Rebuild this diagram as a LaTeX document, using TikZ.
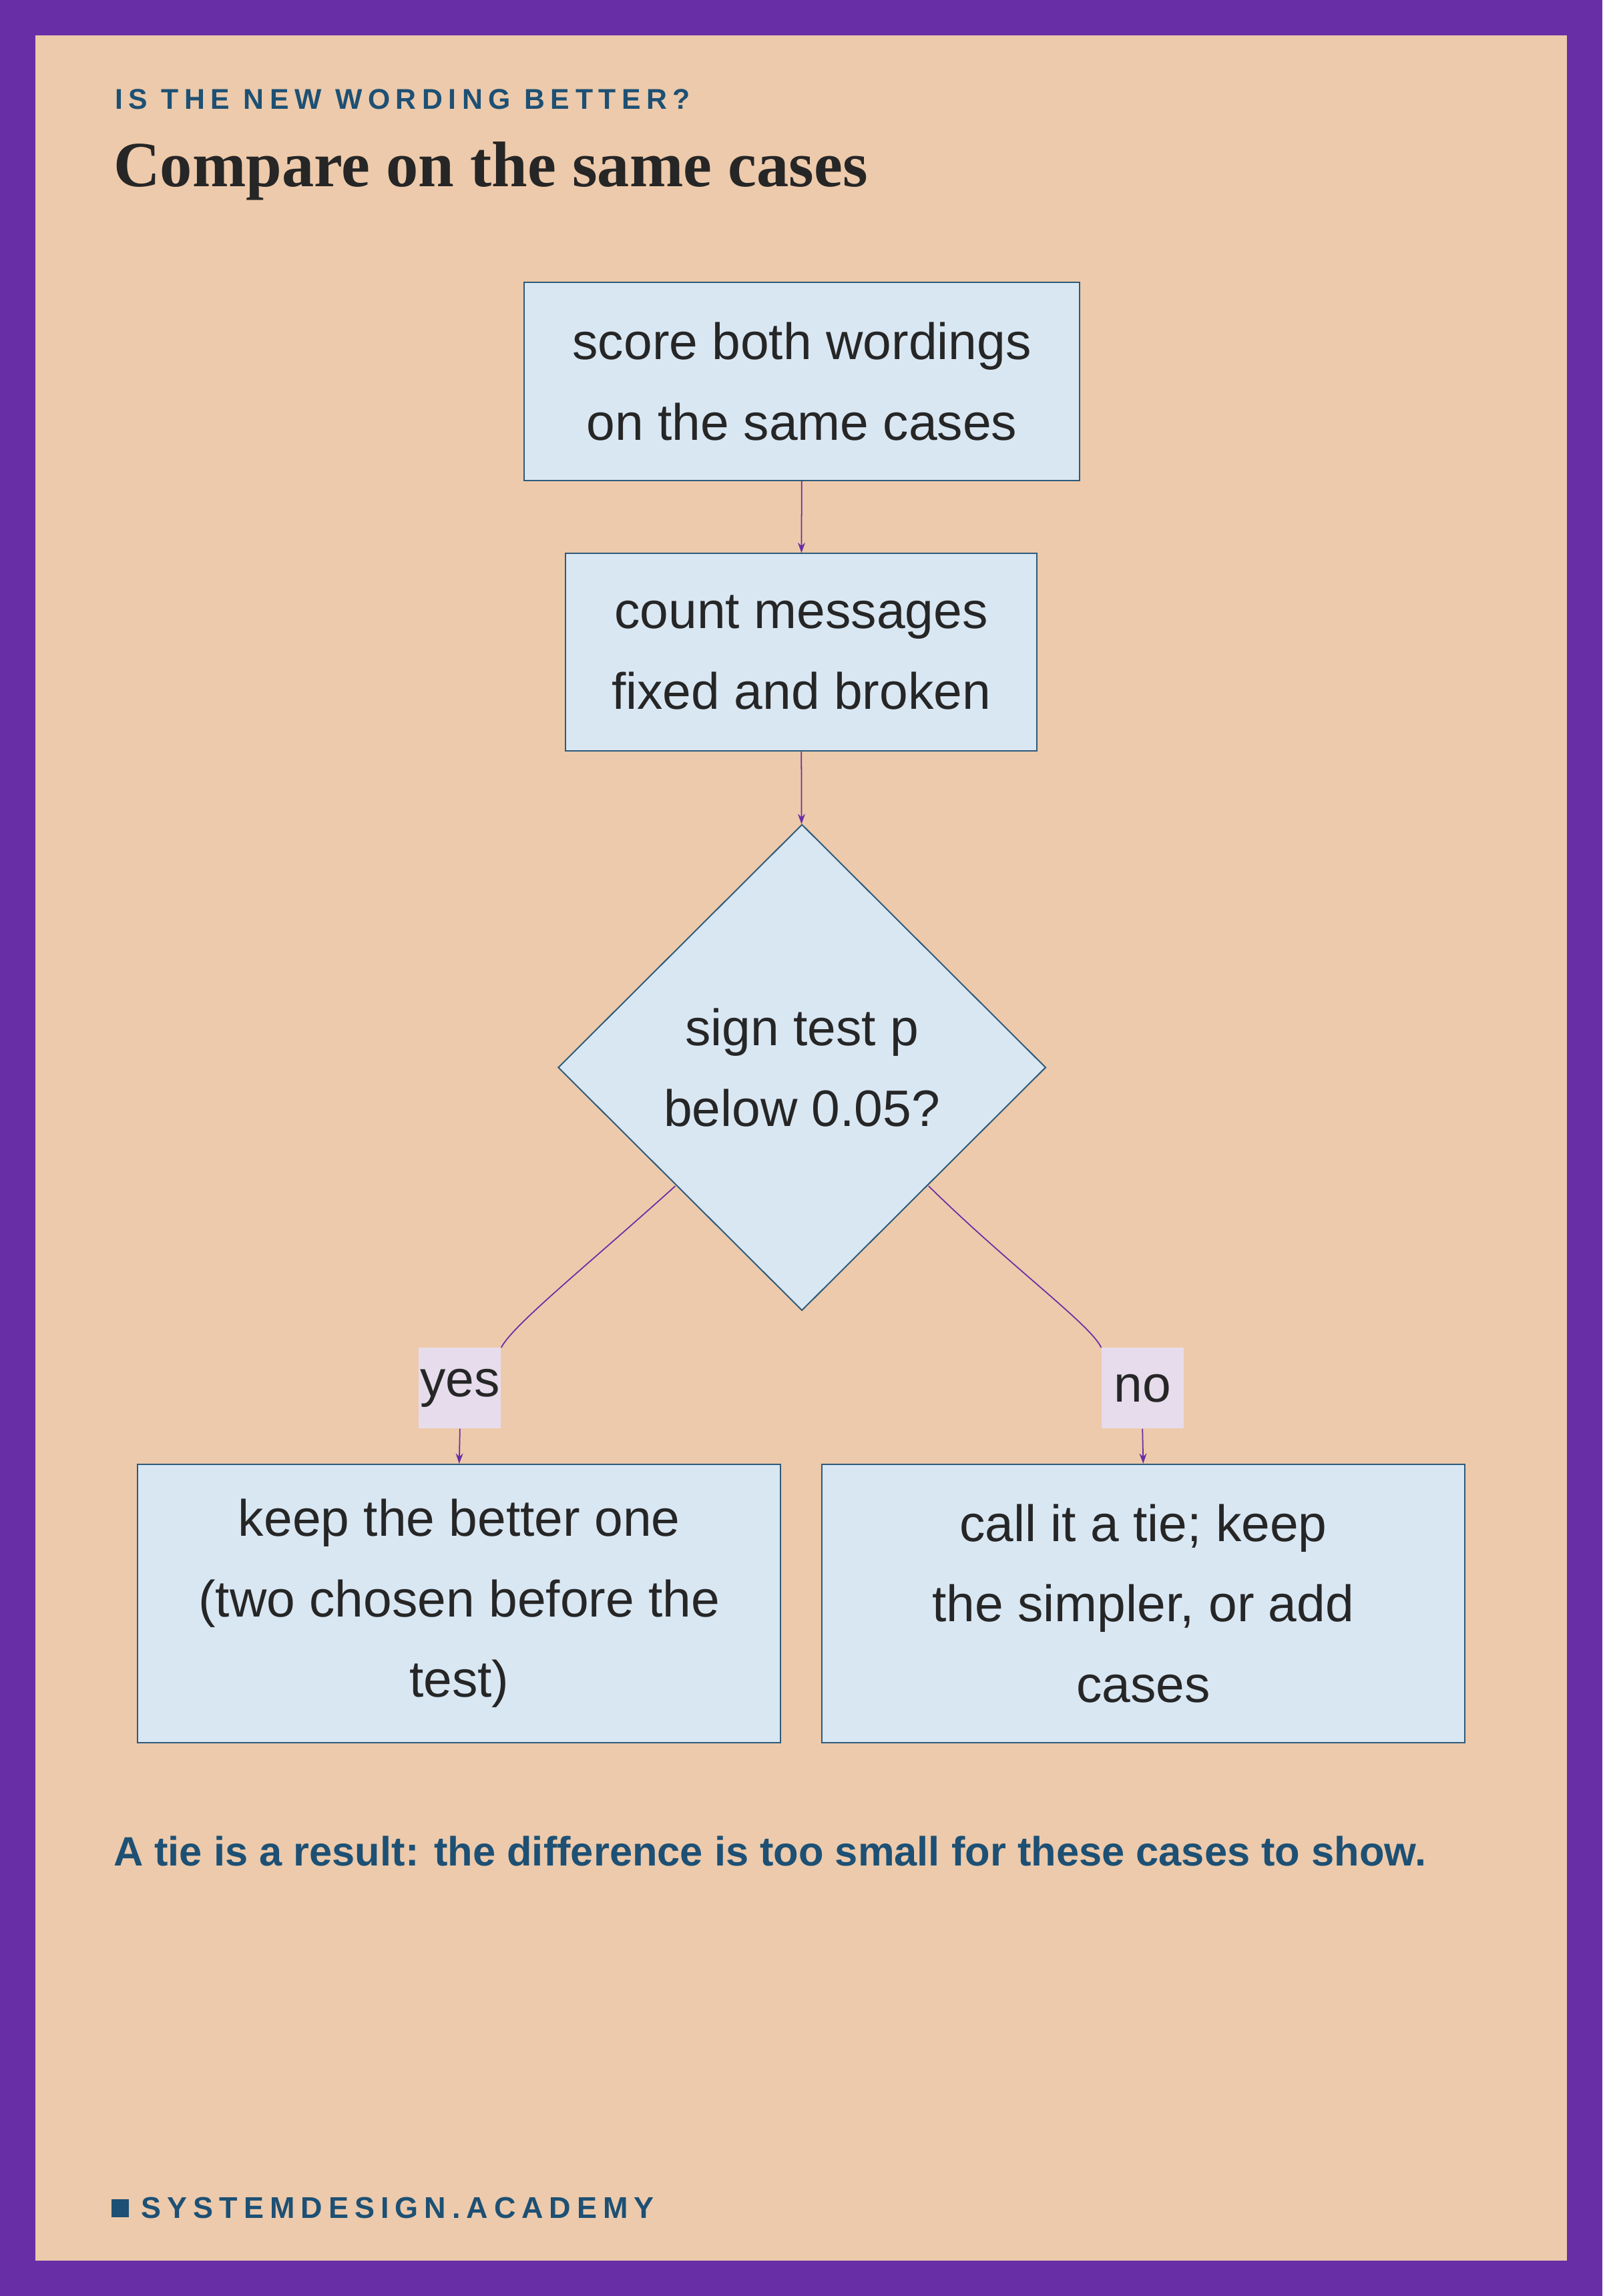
\documentclass[tikz,border=0pt]{standalone}
\usepackage{fontspec}
\setmainfont{Liberation Sans}
\newfontfamily\capsfont[LetterSpace=20]{Liberation Sans}
\newfontfamily\titlefont{Liberation Serif}
\usetikzlibrary{shapes.geometric,arrows.meta}
\definecolor{frame}{HTML}{682EA6}
\definecolor{bg}{HTML}{EDCAAB}
\definecolor{boxfill}{HTML}{D9E7F3}
\definecolor{boxline}{HTML}{2D5A7A}
\definecolor{ink}{HTML}{262626}
\definecolor{head}{HTML}{1D5074}
\definecolor{lab}{HTML}{E6DCEC}
\begin{document}
\begin{tikzpicture}[x=1pt,y=-1pt,
  box/.style={draw=boxline,line width=0.9pt,fill=boxfill,inner sep=0pt,text=ink,font=\fontsize{35}{55}\selectfont,align=center},
  lbl/.style={fill=lab,inner sep=0pt,minimum width=56pt,minimum height=55pt,text=ink,font=\fontsize{35}{38}\selectfont},
  arr/.style={draw=frame,line width=0.8pt,-{Stealth[length=7pt,width=5pt]}},
  ln/.style={draw=frame,line width=0.8pt}]
\fill[frame] (0,0) rectangle (1094,1568);
\fill[bg] (24,24) rectangle (1070,1544);
\useasboundingbox (0,0) rectangle (1094,1568);
\node[anchor=west,text=head,font=\capsfont\bfseries\fontsize{19.5}{22}\selectfont] (kick) at (75,68) {IS THE NEW WORDING BETTER?};
\node[anchor=west,text=ink,font=\titlefont\bfseries\fontsize{44}{48}\selectfont] (title) at (74,117) {Compare on the same cases};
\node[box,minimum width=379pt,minimum height=135pt] (b1) at (547.5,260.5) {score both wordings\\on the same cases};
\node[box,minimum width=322pt,minimum height=135pt] (b2) at (547,445.5) {count messages\\fixed and broken};
\node[box,diamond,aspect=1,minimum width=333pt,minimum height=332pt] (d) at (547.5,729) {};
\node[text=ink,font=\fontsize{35}{55}\selectfont,align=center] (dt) at (547.5,729) {sign test p\\below 0.05?};
\node[box,minimum width=439pt,minimum height=190pt] (b3) at (313.5,1095) {keep the better one\\(two chosen before the\\test)};
\node[box,minimum width=439pt,minimum height=190pt] (b4) at (780.5,1095) {call it a tie; keep\\the simpler, or add\\cases};
\node[lbl] (yes) at (314,948) {yes};
\node[lbl] (no) at (780,948) {no};
\draw[arr] (b1) -- (b2);
\draw[arr] (b2) -- (d);
\coordinate (dl) at (461,810);
\coordinate (dr) at (634,810);
\draw[ln] (dl) .. controls (400,865) and (350,905) .. (yes.north east);
\draw[ln] (dr) .. controls (690,865) and (745,905) .. (no.north west);
\draw[arr] (yes.south) -- (b3.north);
\draw[arr] (no.south) -- (b4.north);
\node[anchor=west,text=head,font=\bfseries\fontsize{28}{32}\selectfont] (note) at (74,1264) {A tie is a result: the difference is too small for these cases to show.};
\fill[head] (76,1502) rectangle (88,1514);
\node[anchor=west,text=head,font=\capsfont\bfseries\fontsize{20.5}{24}\selectfont] (brand) at (93,1508) {SYSTEMDESIGN.ACADEMY};
\end{tikzpicture}
\end{document}
